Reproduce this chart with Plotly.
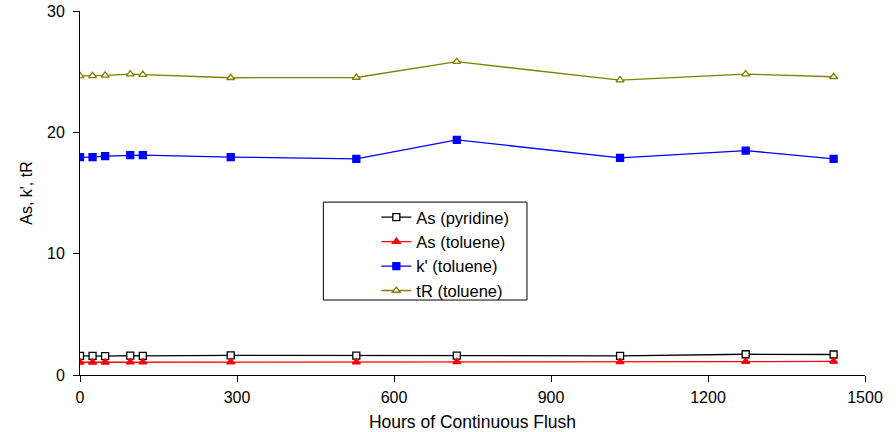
import plotly.graph_objects as go

# Hours of continuous flush at which each measurement was taken
hours = [0, 24, 48, 96, 120, 288, 528, 720, 1032, 1272, 1440]

# Measured values per series
as_pyridine = [1.58, 1.57, 1.55, 1.60, 1.57, 1.62, 1.60, 1.60, 1.58, 1.71, 1.69]
as_toluene = [1.05, 1.05, 1.05, 1.06, 1.06, 1.07, 1.06, 1.08, 1.08, 1.10, 1.12]
k_toluene = [17.96, 17.96, 18.04, 18.12, 18.12, 17.96, 17.82, 19.38, 17.90, 18.50, 17.82]
tr_toluene = [24.65, 24.65, 24.70, 24.80, 24.76, 24.50, 24.52, 25.82, 24.30, 24.80, 24.58]

FONT = "Liberation Sans, Arial, sans-serif"

series = [
    ("As (pyridine)", as_pyridine, "#000000", "square", "#ffffff"),
    ("As (toluene)", as_toluene, "#ff0000", "triangle-up", "#ff0000"),
    ("k' (toluene)", k_toluene, "#0000ff", "square", "#0000ff"),
    ("tR (toluene)", tr_toluene, "#808000", "triangle-up", "#ffffff"),
]

fig = go.Figure()
for i, (name, vals, color, symbol, fill) in enumerate(series):
    fig.add_trace(go.Scatter(
        x=hours, y=vals, name=name, mode="lines+markers",
        legendgroup=f"g{i}",
        line=dict(color=color, width=1.3),
        marker=dict(symbol=symbol, size=7, color=fill,
                    line=dict(color=color, width=1.3)),
    ))

# Frame around the legend
fig.add_shape(type="rect", xref="paper", yref="paper",
              x0=0.31, x1=0.5694, y0=0.206, y1=0.475,
              line=dict(color="#000000", width=1), fillcolor="rgba(0,0,0,0)")

fig.update_layout(
    width=896, height=432,
    margin=dict(l=80, r=31, t=11, b=57),
    paper_bgcolor="#ffffff", plot_bgcolor="#ffffff",
    font=dict(family=FONT, size=16, color="#000000"),
    showlegend=True,
    legend=dict(x=0.3775, y=0.481, xanchor="left", yanchor="top",
                bgcolor="rgba(0,0,0,0)", borderwidth=0, itemwidth=30,
                traceorder="grouped", tracegroupgap=0,
                font=dict(family=FONT, size=16.5)),
    xaxis=dict(range=[0, 1500], tickvals=[0, 300, 600, 900, 1200, 1500],
               automargin=False,
               showgrid=False, zeroline=False, showline=True,
               linecolor="#000000", linewidth=1,
               ticks="outside", ticklen=6, tickcolor="#000000",
               tickfont=dict(family=FONT, size=16), ticklabelstandoff=2,
               title=dict(text="Hours of Continuous Flush", standoff=10,
                          font=dict(family=FONT, size=17.5))),
    yaxis=dict(range=[0, 30], tickvals=[0, 10, 20, 30],
               automargin=False,
               showgrid=False, zeroline=False, showline=True,
               linecolor="#000000", linewidth=1,
               ticks="outside", ticklen=6, tickcolor="#000000",
               tickfont=dict(family=FONT, size=16), ticklabelstandoff=5,
               title=dict(text="As, k', tR", standoff=10,
                          font=dict(family=FONT, size=16))),
)

fig.write_html("out.html")
